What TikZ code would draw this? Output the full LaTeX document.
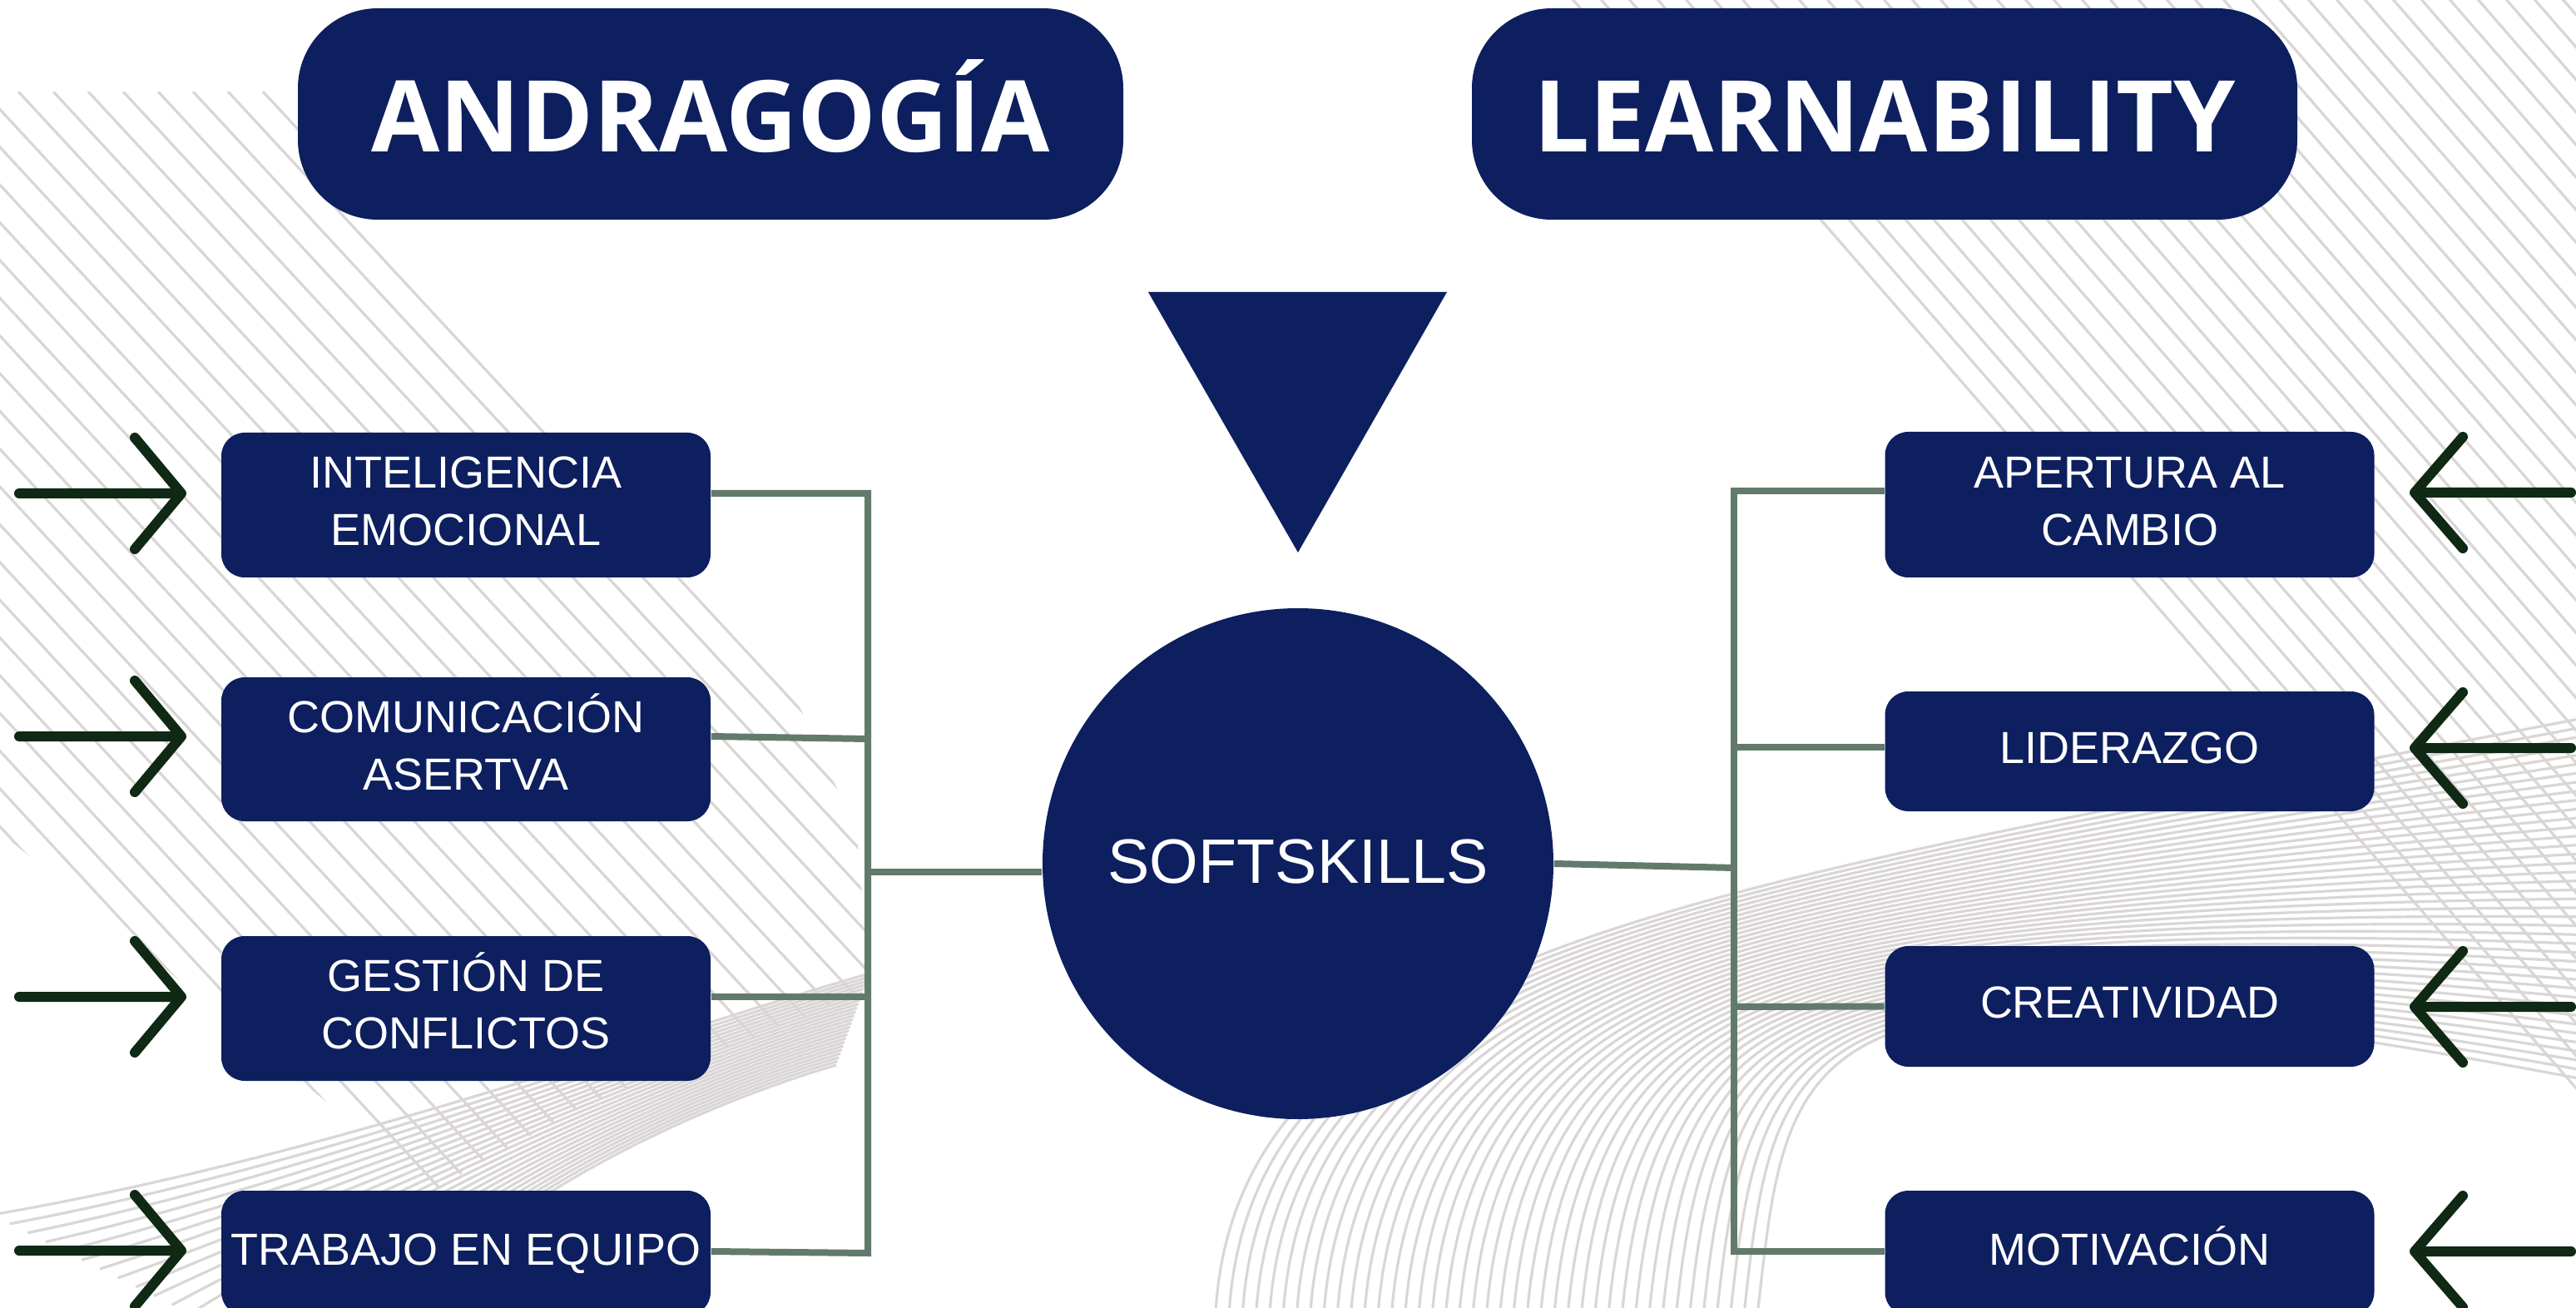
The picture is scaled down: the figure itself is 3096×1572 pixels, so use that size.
\documentclass[tikz,border=0pt]{standalone}
\usepackage{fontspec}
\setmainfont{Liberation Sans}
\newfontfamily\titlefont{Open Sans}
\definecolor{navy}{HTML}{0D1F5F}
\definecolor{connc}{HTML}{627A6C}
\definecolor{arrowgreen}{HTML}{0F2914}
\definecolor{bgline}{HTML}{DAD6D6}
\newcommand\boxline[1]{\hbox to 146pt{\hss\vrule height 9.67pt depth 0pt width 0pt\smash{#1}\hss}}
\newcommand\onel[1]{\vbox{\offinterlineskip\boxline{#1}\vskip 2.5pt}}
\newcommand\twol[2]{\vbox{\offinterlineskip\boxline{#1}\vskip 7.58pt\boxline{#2}\vskip 2.5pt}}
\newcommand\titletext[1]{\hbox{\vrule height 23pt depth 0pt width 0pt\smash{#1}}}
\newcommand\circletext[1]{\hbox{\vrule height 13.5pt depth 2pt width 0pt\smash{#1}}}
\tikzset{
  titlebox/.style={fill=navy, rounded corners=24pt, minimum width=248pt, minimum height=63.5pt, inner sep=0pt, text=white, font=\titlefont\bfseries\fontsize{29.8}{32}\selectfont},
  skillbox/.style={fill=navy, rounded corners=7pt, minimum width=147pt, inner sep=0pt, text=white, font=\fontsize{13.5}{17.25}\selectfont},
  hubcircle/.style={circle, fill=navy, minimum size=153.5pt, inner sep=0pt, text=white, font=\fontsize{18.85}{20}\selectfont},
  connline/.style={draw=connc, line width=2pt},
  arr/.style={draw=arrowgreen, line width=3pt, line cap=round, line join=round},
  bg/.style={draw=bgline, line width=0.8pt},
}
\begin{document}
\begin{tikzpicture}[x=0.25pt, y=-0.25pt]
\useasboundingbox (0,0) rectangle (3096,1572);
\fill[white] (0,0) rectangle (3096,1572);
% ---------------- background decoration
\begin{scope}
\clip (0,0) rectangle (3096,1572);
% left hatch
\begin{scope}
\clip (0,110) -- (330,110) -- (435,264) -- (930,782) -- (1030,1000) -- (1045,1190) -- (700,1330) -- (520,1430) -- (0,1000) -- cycle;
\foreach \i in {0,...,60} {
  \draw[bg] ({-1700+42*\i},110) -- ++(1500,1620);
}
\end{scope}
% left fan
\foreach \i in {0,...,24} {
  \pgfmathsetmacro\t{\i/24}
  \draw[bg] ({1045-40*\t},{1170+110*\t}) .. controls ({800-100*\t},{1240+130*\t}) and ({400-40*\t},{1390+200*\t}) .. ({-10+520*\t},{1460+260*\t});
}
% right hatch
\begin{scope}
\clip (1874,-5) -- (2180,264) -- (2634,782) -- (3096,1310) -- (3100,-5) -- cycle;
\foreach \i in {0,...,60} {
  \draw[bg] ({1100+34*\i},-10) -- ++(1500,1725);
}
\end{scope}
% right wave
\foreach \i in {0,...,40} {
  \pgfmathsetmacro\t{\i/40}
  \draw[bg] ({1460+650*\t},1600) .. controls ({1470+680*\t},{1130+120*\t}) and ({2050+80*\t},{1070+40*\t}) .. (3120,{860+440*\t});
}
\end{scope}
% ---------------- titles
\node[titlebox] (T1) at (854,137) {\titletext{ANDRAGOGÍA}};
\node[titlebox] (T2) at (2265,137) {\titletext{LEARNABILITY}};
% triangle
\fill[navy] (1380,351) -- (1739,351) -- (1560,664) -- cycle;
% ---------------- hub
\node[hubcircle] (C) at (1560,1038) {\circletext{SOFTSKILLS}};
% ---------------- left boxes
\node[skillbox, minimum height=43.5pt] (L1) at (560,607) {\twol{INTELIGENCIA}{EMOCIONAL}};
\node[skillbox, minimum height=43.25pt] (L2) at (560,900.5) {\twol{COMUNICACIÓN}{ASERTVA}};
\node[skillbox, minimum height=43.5pt] (L3) at (560,1212) {\twol{GESTIÓN DE}{CONFLICTOS}};
\node[skillbox, minimum height=37.5pt] (L4) at (560,1506) {\onel{TRABAJO EN EQUIPO}};
% ---------------- right boxes
\node[skillbox, minimum height=43.75pt] (R1) at (2559.5,606.5) {\twol{APERTURA AL}{CAMBIO}};
\node[skillbox, minimum height=36pt] (R2) at (2559.5,903) {\onel{LIDERAZGO}};
\node[skillbox, minimum height=36.25pt] (R3) at (2559.5,1209.5) {\onel{CREATIVIDAD}};
\node[skillbox, minimum height=37.5pt] (R4) at (2559.5,1506) {\onel{MOTIVACIÓN}};
% ---------------- connectors left
\coordinate (lb1) at (1043,593);
\coordinate (lb2) at (1043,888);
\coordinate (lb3) at (1043,1198);
\coordinate (lb4) at (1043,1506);
\coordinate (lbc) at (1043,1048);
\draw[connline] ([yshift=3.5pt]L1.east) -- (lb1) -- (lb4) -- ([yshift=0.5pt]L4.east);
\draw[connline] ([yshift=3.875pt]L2.east) -- (lb2);
\draw[connline] ([yshift=3.5pt]L3.east) -- (lb3);
\draw[connline] ([yshift=-2.5pt]C.west) -- (lbc);
% ---------------- connectors right
\coordinate (rb1) at (2084,590);
\coordinate (rb2) at (2084,898);
\coordinate (rb3) at (2084,1210);
\coordinate (rb4) at (2084,1504);
\coordinate (rbc) at (2084,1043);
\draw[connline] ([yshift=4.125pt]R1.west) -- (rb1) -- (rb4) -- ([yshift=0.5pt]R4.west);
\draw[connline] ([yshift=1.25pt]R2.west) -- (rb2);
\draw[connline] (R3.west) -- (rb3);
\draw[connline] (C.east) -- (rbc);
% ---------------- arrows
\foreach \n/\y in {1/593,2/885,3/1198,4/1503} {
  \coordinate (la\n s) at (23,\y);
  \coordinate (la\n t) at (218,\y);
  \draw[arr] (la\n s) -- (la\n t) (la\n t) ++(-56,-67) -- (la\n t) -- ++(-56,67);
}
\foreach \n/\y in {1/592,2/899,3/1210,4/1504} {
  \coordinate (ra\n s) at (3090,\y);
  \coordinate (ra\n t) at (2902,\y);
  \draw[arr] (ra\n s) -- (ra\n t) (ra\n t) ++(58,-67) -- (ra\n t) -- ++(58,67);
}
\end{tikzpicture}
\end{document}
